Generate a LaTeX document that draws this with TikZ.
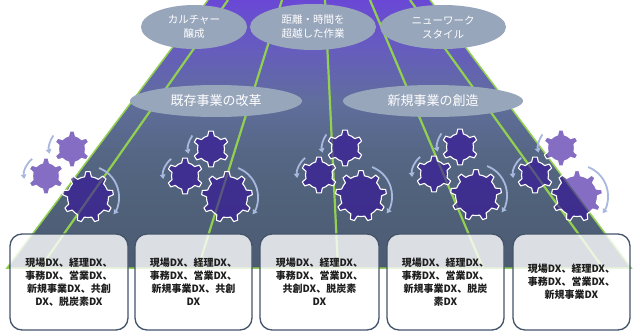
\documentclass[tikz,border=0pt]{standalone}
\usepackage{fontspec}
\newfontfamily\jpfont{Noto Sans CJK JP}
\usetikzlibrary{shapes.geometric,arrows.meta}

\definecolor{roadtop}{RGB}{106,72,214}
\definecolor{roadup}{RGB}{102,92,190}
\definecolor{roadmid}{RGB}{96,110,156}
\definecolor{roadlow}{RGB}{86,103,134}
\definecolor{roadlower}{RGB}{80,97,122}
\definecolor{roadbot}{RGB}{76,91,114}
\definecolor{lanegreen}{HTML}{92D050}
\definecolor{ovalfill}{RGB}{152,166,188}
\definecolor{gearpurple}{RGB}{50,12,155}
\definecolor{spinblue}{RGB}{168,184,222}
\definecolor{boxline}{HTML}{44546A}
\definecolor{boxtext}{RGB}{30,30,30}

% vertical colour ramp of the road, purple far away, slate close by
\pgfdeclareverticalshading{roadshade}{100bp}{%
  color(0bp)=(roadbot); color(25bp)=(roadbot); color(37.7bp)=(roadlower);
  color(47bp)=(roadlow); color(56bp)=(roadmid); color(66bp)=(roadup);
  color(75bp)=(roadtop); color(100bp)=(roadtop)}

% a gear: centre x, centre y, teeth, root radius, tip radius
\newcommand\gearat[5]{%
  \pgfmathsetmacro\gp{360/#3}%
  \pgfmathtruncatemacro\gn{#3-1}%
  \filldraw[gearbody, shift={(#1,#2)}] ({-90-0.24*\gp}:#4)
    \foreach \k [evaluate=\k as \c using -90+\k*\gp] in {0,...,\gn}{
      -- ({\c-0.24*\gp}:#4) -- ({\c-0.12*\gp}:#5) -- ({\c+0.12*\gp}:#5)
      -- ({\c+0.24*\gp}:#4)
      arc[start angle={\c+0.24*\gp}, end angle={\c+0.76*\gp}, radius=#4]
    } -- cycle;%
}
% curved turning arrow round a centre: x, y, radius, from angle, to angle
\newcommand\spinarrow[5]{%
  \draw[spin] ([shift={(#4:#3)}]#1,#2) arc[start angle=#4, end angle=#5, radius=#3];%
}
% one cluster of two small gears and one large gear, by the large gear's centre
\newcommand\gearcluster[2]{%
  \gearat{#1-16}{#2-48}{6}{13.5}{18}
  \gearat{#1-42}{#2-21}{6}{13.5}{18}
  \gearat{#1}{#2}{9}{20.5}{25.5}
  \spinarrow{#1-16}{#2-48}{23}{216}{168}
  \spinarrow{#1-42}{#2-21}{22}{231}{172}
  \spinarrow{#1}{#2}{31}{291}{394}
}

\tikzset{
  lane/.style={draw=lanegreen, line width=2.2pt},
  edge/.style={draw=lanegreen, line width=1.5pt},
  topoval/.style={ellipse, fill=ovalfill, inner sep=0pt, text=white, align=center,
    font={\jpfont\fontsize{10.5}{14}\selectfont}},
  midoval/.style={ellipse, fill=ovalfill, inner sep=0pt, text=white, align=center,
    font={\jpfont\fontsize{13}{15}\selectfont}},
  gearbody/.style={fill=gearpurple, fill opacity=0.6, draw=white, draw opacity=1,
    line width=1.1pt, line join=round},
  spin/.style={draw=spinblue, line width=1.8pt,
    -{Triangle[length=4.5pt,width=5.5pt]}},
  dxbox/.style={draw=boxline, line width=1.3pt, rounded corners=12pt, fill=white,
    fill opacity=0.8, text opacity=1, text=boxtext, align=center,
    minimum height=96pt, inner sep=0pt,
    font={\jpfont\bfseries\fontsize{10}{13}\selectfont}},
}

\begin{document}
\begin{tikzpicture}[x=1pt, y=-1pt]
\useasboundingbox (0,0) rectangle (634,332);

% road surface
\coordinate (rtl) at (208,0);
\coordinate (rtr) at (430,0);
\coordinate (rbr) at (631,268);
\coordinate (rbl) at (7,268);
\shade[shading=roadshade] (rtl) -- (rtr) -- (rbr) -- (rbl) -- cycle;
\draw[edge] (rtl) -- (rbl) -- (rbr) -- (rtr);

% lane markings
\coordinate (a1) at (228,0);  \coordinate (b1) at (40,268);
\coordinate (a2) at (282,0);  \coordinate (b2) at (198,268);
\coordinate (a3) at (325,0);  \coordinate (b3) at (338,268);
\coordinate (a4) at (370,0);  \coordinate (b4) at (483,268);
\coordinate (a5) at (410,0);  \coordinate (b5) at (603,268);
\foreach \i in {1,...,5} \draw[lane] (a\i) -- (b\i);

% themes
\node[topoval, minimum width=106pt, minimum height=44pt] (culture) at (194,27) {カルチャー\\醸成};
\node[topoval, minimum width=126pt, minimum height=46pt] (distance) at (313,27) {距離・時間を\\超越した作業};
\node[topoval, minimum width=126pt, minimum height=44pt] (newwork) at (443,27) {ニューワーク\\スタイル};
\node[midoval, minimum width=172pt, minimum height=32pt] (reform) at (216,101) {既存事業の改革};
\node[midoval, minimum width=180pt, minimum height=32pt] (create) at (433,101) {新規事業の創造};

% gears
\gearcluster{88}{197}
\gearcluster{227}{197}
\gearcluster{361}{196}
\gearcluster{476}{195}
\gearcluster{577}{196}

% DX fields
\node[dxbox, minimum width=118pt] (f1) at (69,282)
  {現場DX、経理DX、\\事務DX、営業DX、\\新規事業DX、共創\\DX、脱炭素DX};
\node[dxbox, minimum width=117pt] (f2) at (193.5,282)
  {現場DX、経理DX、\\事務DX、営業DX、\\新規事業DX、共創\\DX};
\node[dxbox, minimum width=119pt] (f3) at (319.5,282)
  {現場DX、経理DX、\\事務DX、営業DX、\\共創DX、脱炭素\\DX};
\node[dxbox, minimum width=117pt] (f4) at (445.5,282)
  {現場DX、経理DX、\\事務DX、営業DX、\\新規事業DX、脱炭\\素DX};
\node[dxbox, minimum width=117pt] (f5) at (571.5,282)
  {現場DX、経理DX、\\事務DX、営業DX、\\新規事業DX};
\end{tikzpicture}
\end{document}
